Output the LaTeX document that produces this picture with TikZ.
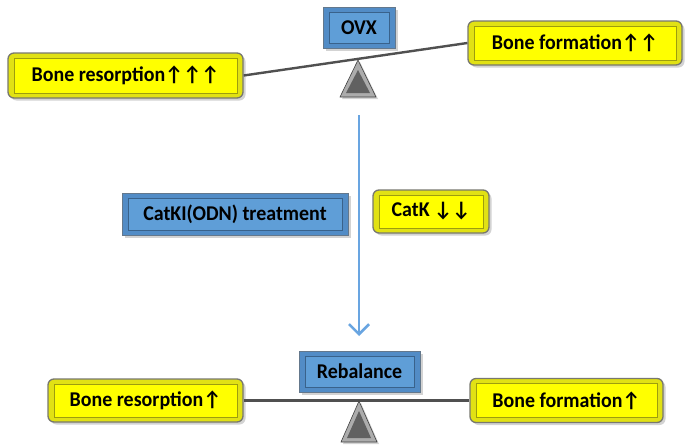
\documentclass[tikz,border=0pt]{standalone}
\usepackage{fontspec}
\setmainfont{Carlito}[FakeStretch=0.95]
\usetikzlibrary{shadows,arrows.meta}
\definecolor{yface}{RGB}{255,255,0}
\definecolor{ybevel}{RGB}{225,225,20}
\definecolor{yrim}{RGB}{120,120,110}
\definecolor{bface}{RGB}{95,158,215}
\definecolor{bbevel}{RGB}{82,140,198}
\definecolor{brim}{RGB}{100,120,140}
\definecolor{beamc}{RGB}{80,80,80}
\definecolor{arrowblue}{RGB}{105,165,225}
\tikzset{
  basebox/.style={font=\fontsize{21}{24}\selectfont\bfseries, text=black, inner sep=0pt,
    drop shadow={shadow xshift=2.5pt,shadow yshift=-2.5pt,opacity=0.35}},
  ybox/.style={basebox, rounded corners=6pt, fill=ybevel, draw=yrim, line width=1.3pt,
    path picture={\draw[sharp corners, fill=yface, draw=ybevel!70!black, line width=0.5pt]
      ([shift={(6pt,-5pt)}]path picture bounding box.north west) rectangle
      ([shift={(-6pt,5pt)}]path picture bounding box.south east);}},
  bbox/.style={basebox, fill=bbevel, draw=brim, line width=0.8pt,
    path picture={\draw[fill=bface, draw=bbevel!70!black, line width=0.5pt]
      ([shift={(6pt,-5pt)}]path picture bounding box.north west) rectangle
      ([shift={(-6pt,5pt)}]path picture bounding box.south east);}},
  beamline/.style={draw=beamc, line width=2.4pt},
  fulcrum/.style={fill=gray!65, draw=gray!50!black, line width=0.6pt,
    drop shadow={shadow xshift=2pt,shadow yshift=-2pt,opacity=0.35}},
  fulcrumin/.style={fill=gray!45!black!80, draw=none},
  flow/.style={draw=arrowblue, line width=2.8pt, -{Straight Barb[length=10pt,width=20pt,line width=2.6pt]}},
}
\begin{document}
\begin{tikzpicture}[x=1pt,y=-1pt]
\useasboundingbox (0,0) rectangle (700,447);
% top balance
\node[bbox, minimum width=72pt, minimum height=41pt] (ovx) at (359,27.5) {OVX};
\node[ybox, minimum width=235pt, minimum height=45pt] (rt) at (125.5,75.5) {Bone resorption↑↑↑};
\node[ybox, minimum width=214pt, minimum height=44pt] (ft) at (575,43) {Bone formation↑↑};
\draw[beamline] (rt.east) -- (ft.west);
\filldraw[fulcrum] (340,97) -- (358,60) -- (376,97) -- cycle;
\fill[fulcrumin] (346,93) -- (358,70) -- (370,93) -- cycle;
% treatment
\coordinate (a1) at (359,115);
\coordinate (a2) at (359,336);
\draw[flow] (a1) -- (a2);
\node[bbox, minimum width=226pt, minimum height=42pt] (treat) at (235,214) {CatKI(ODN) treatment};
\node[ybox, minimum width=116pt, minimum height=43pt] (catk) at (431,211.5) {CatK ↓↓};
% bottom balance
\node[bbox, minimum width=121pt, minimum height=41pt] (reb) at (359.5,371.5) {Rebalance};
\node[ybox, minimum width=195pt, minimum height=43pt] (rb) at (145.5,400.5) {Bone resorption↑};
\node[ybox, minimum width=193pt, minimum height=44pt] (fb) at (566.5,400.5) {Bone formation↑};
\draw[beamline] (rb.east) -- (fb.west);
\filldraw[fulcrum] (341,442) -- (359,401) -- (377,442) -- cycle;
\fill[fulcrumin] (347,438) -- (359,411) -- (371,438) -- cycle;
\end{tikzpicture}
\end{document}
